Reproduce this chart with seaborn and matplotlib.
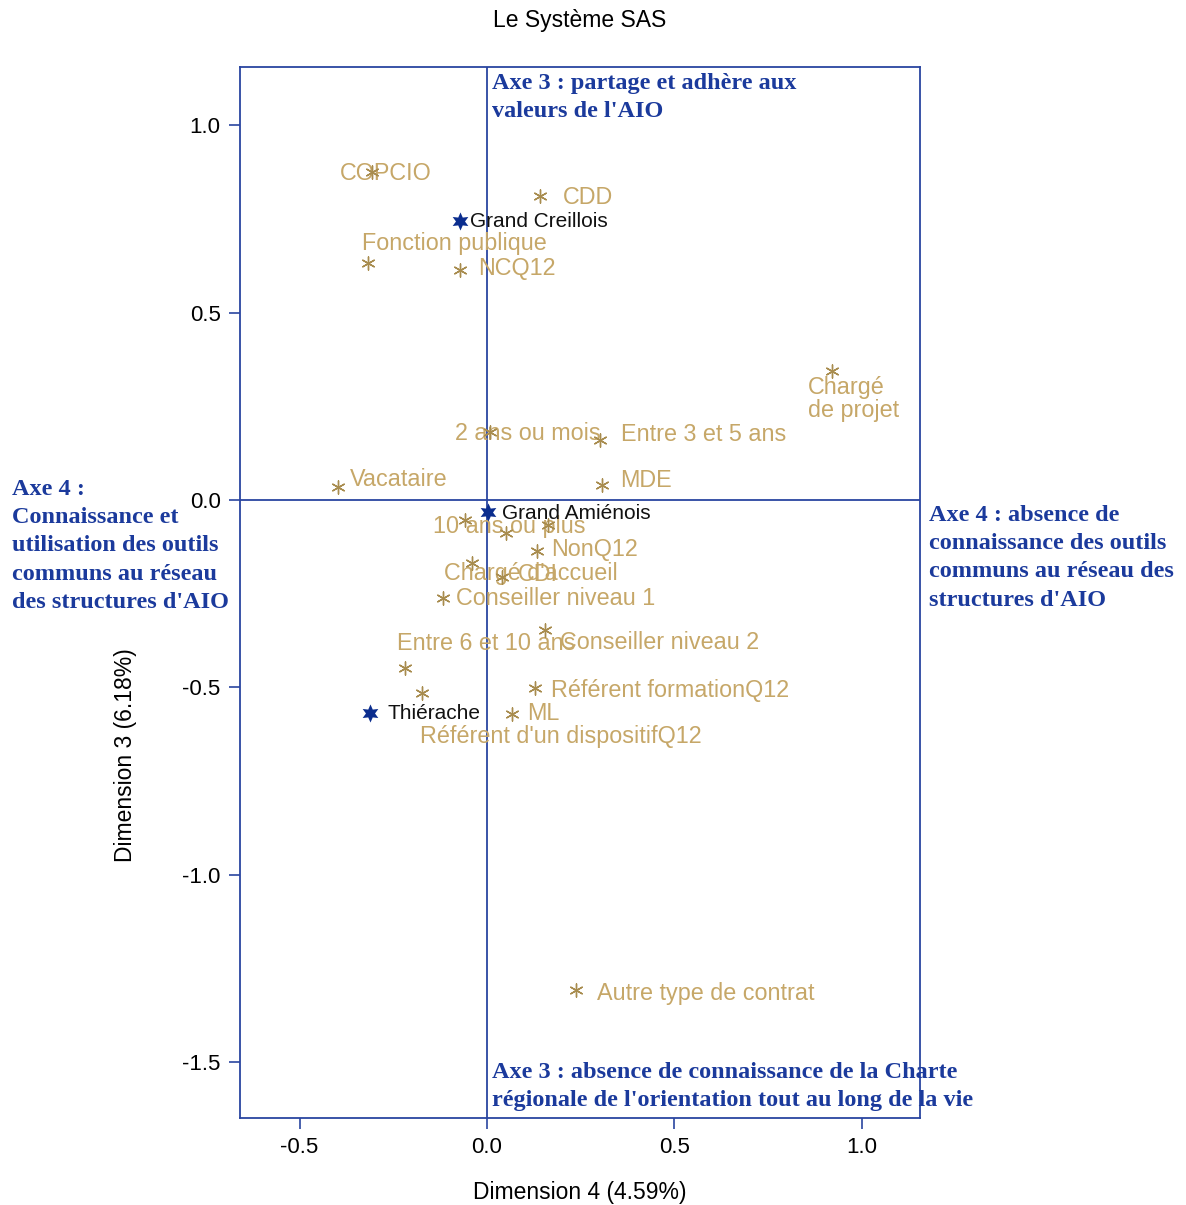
"""SAS MCA plot: dimensions 4 x 3 with category labels and axis annotations."""

import numpy as np
import pandas as pd
import matplotlib as mpl
mpl.use("Agg")
import matplotlib.pyplot as plt
import seaborn as sns

# ── data ──────────────────────────────────────────────────────────────────────
modality_labels = [
    "COPCIO", "CDD", "Fonction publique", "NCQ12", "Chargé\nde projet",
    "2 ans ou mois", "Entre 3 et 5 ans", "MDE", "Vacataire", "10 ans ou plus",
    "", "", "NonQ12", "Chargé d'accueil", "CDI", "Conseiller niveau 1",
    "Conseiller niveau 2", "Entre 6 et 10 ans", "Référent d'un dispositifQ12",
    "Référent formationQ12", "ML", "Autre type de contrat",
]
modality_dim4 = [
    -0.307, 0.141, -0.317, -0.072, 0.920,
    0.008, 0.301, 0.307, -0.397, -0.059,
    0.051, 0.163, 0.133, -0.040, 0.040, -0.117,
    0.155, -0.219, -0.173,
    0.128, 0.067, 0.237,
]
modality_dim3 = [
    0.876, 0.812, 0.633, 0.614, 0.344,
    0.182, 0.160, 0.040, 0.035, -0.053,
    -0.088, -0.067, -0.136, -0.168, -0.206, -0.262,
    -0.347, -0.449, -0.515,
    -0.502, -0.571, -1.308,
]

territory_labels = ["Grand Creillois", "Grand Amiénois", "Thiérache"]
territory_dim4 = [-0.072, 0.003, -0.312]
territory_dim3 = [0.745, -0.032, -0.569]

# label offsets (pixels, from each point to the left/centre of its text)
modality_offsets = [
    (-32, -2), (23, -2), (-6, 19), (18, 2), (-24, -28),
    (-35, -2), (21, 6), (18, 5), (12, 7), (-32, -7),
    (0, 0), (0, 0), (14, 1), (-28, -11), (16, 3), (13, 0),
    (15, -13), (-8, 25), (-2, -44),
    (16, -2), (15, 0), (21, -4),
]
territory_offsets = [(10, -1), (14, -2), (17, 0)]

GOLD_TXT = "#C6A768"
GOLD_MK = "#A88C4E"
BLUE = "#0B2D8E"
LINE_BLUE = "#2A45A0"
ANN_BLUE = "#1B3A9C"

sns.set_style("white")
plt.rcParams["font.family"] = ["Liberation Sans", "DejaVu Sans"]
plt.rcParams["text.color"] = "black"
plt.rcParams["axes.labelcolor"] = "black"

W, H = 1186, 1205
fig = plt.figure(figsize=(W / 100, H / 100), dpi=100)
ax = fig.add_axes([240 / W, 1 - 1118 / H, 680 / W, 1051 / H])

mod_df = pd.DataFrame({"dim4": modality_dim4, "dim3": modality_dim3,
                       "label": modality_labels})
ter_df = pd.DataFrame({"dim4": territory_dim4, "dim3": territory_dim3,
                       "label": territory_labels})

ax.axhline(0, color=LINE_BLUE, lw=1.3, zorder=1)
ax.axvline(0, color=LINE_BLUE, lw=1.3, zorder=1)

sns.scatterplot(data=mod_df, x="dim4", y="dim3", ax=ax, marker=(6, 2, 0),
                s=90, color=GOLD_MK, linewidth=1.0, edgecolor=GOLD_MK,
                legend=False, zorder=3)
sns.scatterplot(data=ter_df, x="dim4", y="dim3", ax=ax, marker=(6, 1, 0),
                s=170, color=BLUE, linewidth=0, legend=False, zorder=4)

for (_, r), (dx, dy) in zip(mod_df.iterrows(), modality_offsets):
    if r["label"]:
        ax.annotate(r["label"], (r["dim4"], r["dim3"]), xytext=(dx, dy),
                    textcoords="offset pixels", ha="left", va="center",
                    fontsize=16.8, color=GOLD_TXT, linespacing=1.0, zorder=2)
for (_, r), (dx, dy) in zip(ter_df.iterrows(), territory_offsets):
    ax.annotate(r["label"], (r["dim4"], r["dim3"]), xytext=(dx, dy),
                textcoords="offset pixels", ha="left", va="center",
                fontsize=15, color="#111111", zorder=5)

ax.set_xlim(-0.659, 1.155)
ax.set_ylim(-1.650, 1.156)
ax.set_xticks([-0.5, 0.0, 0.5, 1.0])
ax.set_yticks([-1.5, -1.0, -0.5, 0.0, 0.5, 1.0])
ax.xaxis.set_major_formatter(mpl.ticker.FormatStrFormatter("%.1f"))
ax.yaxis.set_major_formatter(mpl.ticker.FormatStrFormatter("%.1f"))
ax.tick_params(axis="both", direction="out", length=8, width=1.2,
               color=LINE_BLUE, labelsize=16, labelcolor="black", pad=6)
ax.tick_params(axis="x", bottom=True)
ax.tick_params(axis="y", left=True)
for sp in ax.spines.values():
    sp.set_visible(True)
    sp.set_color(LINE_BLUE)
    sp.set_linewidth(1.3)

ax.set_xlabel("Dimension 4 (4.59%)", fontsize=16.5, labelpad=16)
ax.set_ylabel("Dimension 3 (6.18%)", fontsize=16.5)
ax.yaxis.set_label_coords(-0.152, 0.345)
fig.text(580 / W, 1 - 20 / H, "Le Système SAS", ha="center", va="center",
         fontsize=16.5)

ann_kw = dict(fontsize=17.5, color=ANN_BLUE, fontweight="bold",
              family=["Liberation Serif", "DejaVu Serif"], linespacing=1.45,
              ha="left", va="top")
fig.text(492 / W, 1 - 73 / H,
         "Axe 3 : partage et adhère aux\nvaleurs de l'AIO", **ann_kw)
fig.text(492 / W, 1 - 1062 / H,
         "Axe 3 : absence de connaissance de la Charte\n"
         "régionale de l'orientation tout au long de la vie", **ann_kw)
fig.text(12 / W, 1 - 479 / H,
         "Axe 4 :\nConnaissance et\nutilisation des outils\n"
         "communs au réseau\ndes structures d'AIO", **ann_kw)
fig.text(929 / W, 1 - 505 / H,
         "Axe 4 : absence de\nconnaissance des outils\n"
         "communs au réseau des\nstructures d'AIO", **ann_kw)

fig.savefig("out.png", dpi=100)
